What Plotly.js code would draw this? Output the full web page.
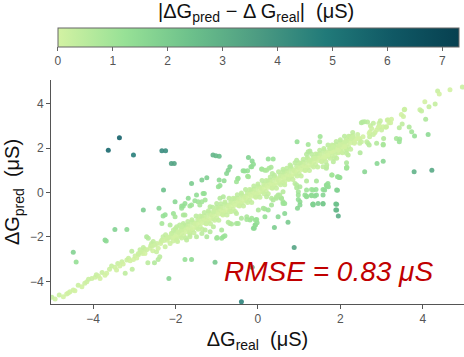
<!DOCTYPE html>
<html>
<head>
<meta charset="utf-8">
<script src="https://cdn.plot.ly/plotly-3.0.1.min.js"></script>
<style>
  html, body { margin: 0; padding: 0; background: #fff; }
  #chart { width: 464px; height: 357px; }
</style>
</head>
<body>
<div id="chart"></div>
<script>
// dense diagonal band (real, predicted), µS
const bandReal = [
  -2.10,-2.08,-2.06,-2.04,-2.02,-2.00,-1.98,-1.96,-1.94,-1.92,
  -1.90,-1.88,-1.86,-1.84,-1.82,-1.80,-1.78,-1.76,-1.74,-1.72,
  -1.70,-1.68,-1.66,-1.64,-1.62,-1.60,-1.58,-1.56,-1.54,-1.52,
  -1.50,-1.48,-1.46,-1.44,-1.42,-1.40,-1.38,-1.36,-1.34,-1.32,
  -1.30,-1.28,-1.26,-1.24,-1.22,-1.20,-1.18,-1.16,-1.14,-1.12,
  -1.10,-1.08,-1.06,-1.04,-1.02,-1.00,-0.98,-0.96,-0.94,-0.92,
  -0.90,-0.88,-0.86,-0.84,-0.82,-0.80,-0.78,-0.76,-0.74,-0.72,
  -0.70,-0.68,-0.66,-0.64,-0.62,-0.60,-0.58,-0.56,-0.54,-0.52,
  -0.50,-0.48,-0.46,-0.44,-0.42,-0.40,-0.38,-0.36,-0.34,-0.32,
  -0.30,-0.28,-0.26,-0.24,-0.22,-0.20,-0.18,-0.16,-0.14,-0.12,
  -0.10,-0.08,-0.06,-0.04,-0.02,0.00,0.02,0.04,0.06,0.08,
  0.10,0.12,0.14,0.16,0.18,0.20,0.22,0.24,0.26,0.28,
  0.30,0.32,0.34,0.36,0.38,0.40,0.42,0.44,0.46,0.48,
  0.50,0.52,0.54,0.56,0.58,0.60,0.62,0.64,0.66,0.68,
  0.70,0.72,0.74,0.76,0.78,0.80,0.82,0.84,0.86,0.88,
  0.90,0.92,0.94,0.96,0.98,1.00,1.02,1.04,1.06,1.08,
  1.10,1.12,1.14,1.16,1.18,1.20,1.22,1.24,1.26,1.28,
  1.30,1.32,1.34,1.36,1.38,1.40,1.42,1.44,1.46,1.48,
  1.50,1.52,1.54,1.56,1.58,1.60,1.62,1.64,1.66,1.68,
  1.70,1.72,1.74,1.76,1.78,1.80,1.82,1.84,1.86,1.88,
  1.90,1.92,1.94,1.96,1.98,2.00,2.02,2.04,2.06,2.08,
  2.10,2.12,2.14,2.16,2.18,2.20,2.22,2.24,2.26,2.28,
  2.30,2.34,2.38,2.42,2.46
];
const bandPred = [
  -1.84,-2.02,-2.18,-1.88,-2.06,-1.70,-2.06,-1.76,-1.94,-1.82,
  -1.78,-1.98,-1.62,-1.82,-1.64,-1.94,-1.70,-1.48,-1.76,-1.58,
  -1.44,-1.62,-1.78,-1.48,-1.66,-1.30,-1.66,-1.36,-1.54,-1.42,
  -1.38,-1.58,-1.22,-1.42,-1.24,-1.54,-1.30,-1.08,-1.36,-1.18,
  -1.04,-1.22,-1.38,-1.08,-1.26,-0.90,-1.26,-0.96,-1.14,-1.02,
  -0.98,-1.18,-0.82,-1.02,-0.84,-1.14,-0.90,-0.68,-0.96,-0.78,
  -0.64,-0.82,-0.98,-0.68,-0.86,-0.50,-0.86,-0.56,-0.74,-0.62,
  -0.58,-0.78,-0.42,-0.62,-0.44,-0.74,-0.50,-0.28,-0.56,-0.38,
  -0.24,-0.42,-0.58,-0.28,-0.46,-0.10,-0.46,-0.16,-0.34,-0.22,
  -0.18,-0.38,-0.02,-0.22,-0.04,-0.34,-0.10,0.12,-0.16,0.02,
  0.16,-0.02,-0.18,0.12,-0.06,0.30,-0.06,0.24,0.06,0.18,
  0.22,0.02,0.38,0.18,0.36,0.06,0.30,0.52,0.24,0.42,
  0.56,0.38,0.22,0.52,0.34,0.70,0.34,0.64,0.46,0.58,
  0.62,0.42,0.78,0.58,0.76,0.46,0.70,0.92,0.64,0.82,
  0.96,0.78,0.62,0.92,0.74,1.10,0.74,1.04,0.86,0.98,
  1.02,0.82,1.18,0.98,1.16,0.86,1.10,1.32,1.04,1.22,
  1.36,1.18,1.02,1.32,1.14,1.50,1.14,1.44,1.26,1.38,
  1.42,1.22,1.58,1.38,1.56,1.26,1.50,1.72,1.44,1.62,
  1.76,1.58,1.42,1.72,1.54,1.90,1.54,1.84,1.66,1.78,
  1.82,1.62,1.98,1.78,1.96,1.66,1.90,2.12,1.84,2.02,
  2.16,1.98,1.82,2.12,1.94,2.30,1.94,2.24,2.06,2.18,
  2.22,2.02,2.38,2.18,2.36,2.06,2.30,2.52,2.24,2.42,
  2.56,2.22,2.42,2.62,2.40
];

// wider fringe of the band
const fringeReal = [
  -2.00,-1.95,-1.90,-1.85,-1.80,-1.75,-1.70,-1.65,-1.60,-1.55,
  -1.50,-1.45,-1.40,-1.35,-1.30,-1.25,-1.20,-1.15,-1.10,-1.05,
  -1.00,-0.95,-0.90,-0.85,-0.80,-0.75,-0.70,-0.65,-0.60,-0.55,
  -0.50,-0.45,-0.40,-0.35,-0.30,-0.25,-0.20,-0.15,-0.10,-0.05,
  0.00,0.05,0.10,0.15,0.20,0.25,0.30,0.35,0.40,0.45,
  0.50,0.55,0.60,0.65,0.70,0.75,0.80,0.85,0.90,0.95,
  1.00,1.05,1.10,1.15,1.20,1.25,1.30,1.35,1.40,1.45,
  1.50,1.55,1.60,1.65,1.70,1.75,1.80,1.85,1.90,1.95,
  2.00,2.05,2.10,2.15,2.20,2.25,2.30,
  -2.90,-2.80,-2.60,-2.45,-2.35,-2.20,-2.15,-2.55,-2.75
];
const fringePred = [
  -1.62,-2.21,-1.46,-2.05,-1.46,-2.05,-1.30,-1.81,-1.22,-1.81,
  -1.06,-1.65,-1.06,-1.65,-0.90,-1.41,-0.82,-1.41,-0.66,-1.25,
  -0.66,-1.25,-0.50,-1.01,-0.42,-1.01,-0.26,-0.85,-0.26,-0.85,
  -0.10,-0.61,-0.02,-0.61,0.14,-0.45,0.14,-0.45,0.30,-0.21,
  0.38,-0.21,0.54,-0.05,0.54,-0.05,0.70,0.19,0.78,0.19,
  0.94,0.35,0.94,0.35,1.10,0.59,1.18,0.59,1.34,0.75,
  1.34,0.75,1.50,0.99,1.58,0.99,1.74,1.15,1.74,1.15,
  1.90,1.39,1.98,1.39,2.14,1.55,2.14,1.55,2.30,1.79,
  2.38,1.79,2.54,1.95,2.54,1.95,2.70,
  -2.80,-2.75,-2.40,-2.30,-2.20,-2.15,-2.02,-2.62,-2.55
];

// sparser ends of the band
const tailReal = [
  -5.00,-4.92,-4.82,-4.72,-4.64,-4.60,-4.56,-4.48,-4.44,-4.36,-4.27,-4.20,-4.15,-4.11,-4.03,
  -3.95,-3.92,-3.87,-3.83,-3.78,-3.71,-3.67,-3.60,-3.55,-3.47,-3.43,-3.40,-3.35,-3.30,-3.27,
  -3.22,-3.18,-3.14,-3.10,-3.06,-3.05,-3.02,-2.98,-2.94,-2.90,-2.86,-2.82,-2.78,-2.74,-2.70,
  -2.70,-2.67,-2.66,-2.62,-2.58,-2.56,-2.54,-2.51,-2.50,-2.46,-2.42,-2.42,-2.38,-2.36,-2.33,
  -2.30,-2.28,-2.25,-2.24,-2.21,-2.18,-2.13,-2.09,-2.05,-2.01,-1.97,-1.93,
  2.15,2.23,2.27,2.31,2.35,2.43,2.47,2.47,2.51,2.51,2.54,2.55,2.59,2.64,2.66,2.67,2.70,
  2.71,2.72,2.73,2.76,2.80,2.80,2.84,2.88,2.92,2.94,2.96,2.97,3.00,3.04,3.10,3.12,3.14,
  3.16,3.18,3.22,3.24,3.43,3.48,3.50,3.53,3.55,3.56,3.93,3.97,4.05,4.15,4.30,4.36,4.40,
  4.66,4.96
];
const tailPred = [
  -4.72,-4.80,-4.62,-4.69,-4.57,-4.52,-4.47,-4.39,-4.42,-4.17,-4.24,-4.08,-4.02,-3.91,-3.87,
  -3.82,-3.70,-3.76,-3.87,-3.60,-3.72,-3.64,-3.45,-3.31,-3.37,-3.49,-3.20,-3.31,-3.12,-3.22,
  -3.64,-3.04,-2.96,-3.07,-2.64,-3.45,-3.01,-2.86,-2.95,-2.74,-2.58,-2.67,-2.47,-2.74,-1.99,
  -2.58,-3.16,-2.06,-2.51,-2.29,-2.40,-2.20,-3.16,-2.36,-2.67,-2.51,-3.01,-2.89,-2.30,-2.14,
  -1.99,-2.16,-2.44,-1.90,-2.06,-2.00,-2.29,-1.84,-1.69,-1.99,-2.14,-1.77,
  2.36,2.51,2.44,2.51,2.29,2.44,2.44,2.22,2.29,3.14,3.18,2.51,3.19,2.29,3.18,2.22,2.67,
  2.51,2.74,3.01,2.89,2.62,3.12,2.71,2.82,2.94,3.12,2.96,3.23,2.82,2.96,2.94,2.96,3.27,
  3.27,3.14,3.14,3.30,2.92,3.52,3.09,3.43,3.73,3.75,3.73,3.67,4.09,3.87,3.99,4.57,4.44,
  4.63,4.75
];

// points spread around the band
const offReal = [
  3.67,3.73,3.80,4.13,4.07,3.05,3.36,3.44,3.43,3.04,2.70,2.48,3.04,2.89,2.59,3.79,4.22,2.15,
  1.80,1.93,1.97,1.66,1.66,1.71,1.93,2.15,2.03,1.87,1.70,1.62,2.07,1.95,1.79,2.19,1.83,1.66,
  1.79,1.99,2.11,3.04,2.88,
  -0.14,-0.17,-0.36,-0.25,0.09,0.17,0.27,0.37,0.25,1.22,1.26,0.94,0.78,0.61,-1.61,-1.36,
  -1.24,-0.94,-0.82,-1.30,-0.96,-0.92,-0.48,-0.52,-0.23,-1.81,-1.85,-1.53,-1.36,-1.65,
  -1.77,-1.97,-1.85,-1.65,-1.49,-1.24,-1.00,-0.84,-1.08,-0.88,-0.68,-0.48,-0.19,-0.03,
  -0.11,-0.07,0.01,0.17,0.25,0.61,0.65,0.57,0.98,1.02,1.18,1.38,1.58,1.34,1.58,1.91,1.91,
  1.18,1.34,1.62,1.67,1.70,1.91,1.95,1.99,1.79,1.18,1.42,0.98,0.94,0.90,2.15,1.58,1.67,
  1.91,2.11,2.15,1.18,1.22,0.49,0.61,0.45,0.21,-0.52,-0.40,-0.27,-0.68,-1.16,-1.08,-1.00,
  -0.76,-0.72,-0.68,-0.84,-0.92,-0.49,-0.32,-0.15,-0.11,-0.25,0.10,0.21,0.32,0.35,
  -0.09,-0.06,-0.02,-0.80,-0.88,-0.99,-1.16,-1.28,-1.36,-1.73,-1.65,-0.52,-0.64,-0.72,
  -0.15,-0.06,-0.27,0.17,0.65,0.49,0.96,1.02,1.34,1.46,0.33,0.45,0.57,0.98,1.14,1.30,
  1.42,0.61,0.33,-1.61,-1.45,-1.41,-1.28,-1.49,-1.33,-1.69,-1.77,
  1.58,1.33,1.68,1.58,1.30,1.41,1.30,1.18,0.94,1.02,0.13,0.37,0.53,0.65,2.16,2.15,1.26,
  1.38,1.75,1.83,1.50,
  -2.78,-2.40,-2.30,-2.25,-2.01,-2.05,-2.01,-1.85,-1.81,-3.47,-3.18,-3.71,-3.68,-4.48,
  -4.41,-2.16,-1.77,-1.61,-1.04,-2.33,-2.13,-1.81,-1.85
];
const offPred = [
  2.95,2.74,2.55,2.62,3.30,2.44,2.44,2.41,2.29,2.14,2.14,1.79,1.41,1.31,0.94,0.94,1.01,1.12,
  0.79,0.71,0.68,1.09,0.34,0.26,0.10,1.91,1.84,1.69,1.69,1.61,2.06,1.91,1.84,1.69,1.39,1.16,
  2.06,2.14,2.29,2.18,2.22,
  1.42,1.16,0.98,0.98,1.06,1.01,1.09,1.51,1.51,2.17,1.87,1.46,1.24,1.05,0.41,0.56,
  0.67,0.56,0.53,-0.04,0.26,0.32,0.64,0.49,0.71,-0.61,-0.71,-0.37,-0.41,-0.61,
  -1.01,-1.54,-1.69,-1.91,-1.99,-1.99,-2.06,-1.99,-1.54,-1.69,-1.39,-1.39,-1.24,-1.21,
  -1.61,-1.46,-0.79,-0.74,-0.79,-0.41,-0.49,-0.26,-0.31,-0.41,-0.16,-0.16,-0.11,-0.52,-0.49,-0.53,-0.79,
  0.11,0.11,0.11,0.29,0.41,0.11,0.71,0.68,0.79,0.52,0.52,0.04,0.22,0.41,1.09,1.16,1.24,
  1.54,2.06,1.77,1.72,1.84,-0.11,0.04,-0.26,-0.19,-0.94,-1.16,-1.09,-0.86,-0.64,-0.86,-0.49,
  0.86,1.01,1.16,-0.19,-0.26,0.62,0.97,1.16,1.27,0.74,1.05,1.01,1.14,0.86,
  -1.61,-1.46,-1.36,-1.95,-2.06,-2.02,-1.77,-1.69,-1.84,-2.14,-1.99,-1.39,-1.42,-1.34,
  -1.16,-1.24,-1.21,-1.09,-0.94,-1.09,-0.71,-0.56,-0.56,-0.49,-0.26,-0.19,-0.26,-0.11,-0.11,-0.14,
  -0.11,-0.49,-0.56,-0.56,-0.41,-0.56,-0.34,-0.11,-0.04,-0.26,-0.49,
  -0.52,-0.53,0.34,0.14,0.14,0.14,-0.11,-0.19,0.34,0.26,-0.71,-0.34,-0.11,0.49,1.14,1.34,1.46,
  1.54,1.99,2.06,2.29,
  -0.79,-0.71,-1.06,-1.00,-0.41,-0.94,-1.09,-0.61,-1.01,-1.66,-1.66,-2.14,-2.18,-2.69,
  -3.13,-3.87,-3.01,-3.01,-3.14,-1.39,-1.46,-1.39,-1.54
];

// far outliers
const outReal = [
  -3.63,-3.36,-3.02,-2.33,-2.24,-2.10,-2.03,-2.29,-1.09,-1.02,-0.94,-0.23,
  0.95,1.51,0.73,0.40,0.88,-0.14,-0.40,1.89,1.89,1.95
];
const outPred = [
  1.91,2.47,1.69,1.88,1.88,1.31,1.31,0.11,1.69,1.66,1.64,1.58,
  2.29,2.53,-1.34,-1.57,-2.47,-3.37,-4.92,-0.52,-0.79,-1.06
];

const cbTicks = [0, 1, 2, 3, 4, 5, 6, 7];
const axisTicks = [-4, -2, 0, 2, 4];
const rmseText = "RMSE = 0.83 μS";

const EMRLD = [
  [0, "#d3f2a3"], [1/6, "#97e196"], [2/6, "#6cc08b"], [3/6, "#4c9b82"],
  [4/6, "#217a79"], [5/6, "#105965"], [1, "#074050"]
];
const FONT = "Liberation Sans, Arial, sans-serif";

function drawChart() {
  const real = bandReal.concat(fringeReal, tailReal, offReal, outReal);
  const pred = bandPred.concat(fringePred, tailPred, offPred, outPred);
  const err = real.map((r, i) => Math.abs(pred[i] - r));

  const trace = {
    x: real,
    y: pred,
    type: "scatter",
    mode: "markers",
    hoverinfo: "skip",
    marker: {
      size: 5,
      color: err,
      colorscale: EMRLD,
      cmin: 0,
      cmax: 7.3,
      opacity: 0.9,
      line: { width: 0 },
      showscale: true,
      colorbar: {
        orientation: "h",
        x: 0.502, xanchor: "center", xpad: 0,
        y: 1.232, yanchor: "top", ypad: 0,
        len: 401, lenmode: "pixels",
        thickness: 19,
        outlinecolor: "#666", outlinewidth: 1,
        tickvals: cbTicks,
        ticks: "outside", ticklen: 4, tickcolor: "#666",
        tickfont: { family: FONT, size: 12, color: "#555" }
      }
    }
  };

  const axisStyle = {
    range: [-5.02, 5.0],
    tickvals: axisTicks,
    ticktext: axisTicks.map(v => v < 0 ? "−" + Math.abs(v) : String(v)),
    showgrid: false,
    zeroline: false,
    showline: true,
    linecolor: "#555",
    linewidth: 1,
    ticks: "outside",
    ticklen: 4,
    tickcolor: "#555",
    tickfont: { family: FONT, size: 12, color: "#555" }
  };

  const layout = {
    width: 464,
    height: 357,
    margin: { l: 51, r: 0, t: 80, b: 53 },
    paper_bgcolor: "#fff",
    plot_bgcolor: "#fff",
    showlegend: false,
    font: { family: FONT },
    xaxis: Object.assign({}, axisStyle, {
      title: { text: "ΔG<sub>real</sub>&nbsp; (μS)", font: { family: FONT, size: 20, color: "#111" }, standoff: 6 }
    }),
    yaxis: Object.assign({}, axisStyle, {
      range: [-5.02, 5.07],
      title: { text: "ΔG<sub>pred</sub>&nbsp; (μS)", font: { family: FONT, size: 20, color: "#111" }, standoff: 4 }
    }),
    annotations: [
      {
        text: "|ΔG<sub>pred</sub> − Δ G<sub>real</sub>|&nbsp; (μS)",
        xref: "paper", yref: "paper",
        x: 0.496, y: 1.3,
        xanchor: "center", yanchor: "middle",
        showarrow: false,
        font: { family: FONT, size: 20, color: "#111" }
      },
      {
        text: "<i>" + rmseText + "</i>",
        xref: "x", yref: "y",
        x: 1.71, y: -3.54,
        xanchor: "center", yanchor: "middle",
        showarrow: false,
        font: { family: FONT, size: 28, color: "#c00000" }
      }
    ]
  };

  Plotly.newPlot("chart", [trace], layout, { displayModeBar: false, staticPlot: true });
}

drawChart();
</script>
</body>
</html>
